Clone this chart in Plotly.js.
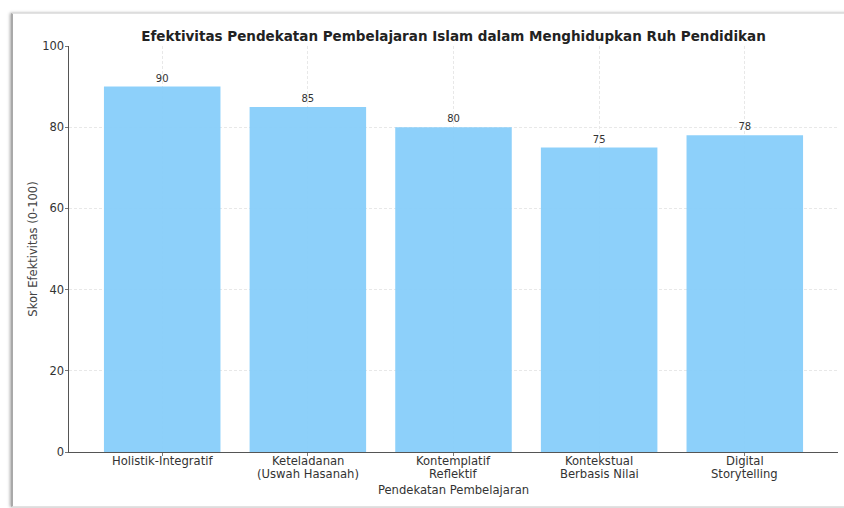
<!DOCTYPE html>
<html>
<head>
<meta charset="utf-8">
<script src="https://cdn.plot.ly/plotly-3.0.1.min.js"></script>
<style>
  html, body { margin: 0; padding: 0; background: #ffffff; width: 844px; height: 508px; overflow: hidden; }
  #frame { position: absolute; left: 11px; top: 13px; width: 840px; height: 492px;
           border-top: 1px solid #e2e2e2; border-bottom: 1px solid #e2e2e2; border-left: 2px solid #a9a9a9;
           box-shadow: -1px 0 3px rgba(0,0,0,0.35); background: #ffffff; }
  #chart { position: absolute; left: 0; top: 0; width: 844px; height: 508px; }
</style>
</head>
<body>
<div id="frame"></div>
<div id="chart"></div>
<script>
const categories = [
  "Holistik-Integratif",
  "Keteladanan<br>(Uswah Hasanah)",
  "Kontemplatif<br>Reflektif",
  "Kontekstual<br>Berbasis Nilai",
  "Digital<br>Storytelling"
];
const scores = [90, 85, 80, 75, 78];
const yTicks = [0, 20, 40, 60, 80, 100];

const catIdx = categories.map((c, i) => i);

const trace = {
  type: "bar",
  x: catIdx,
  y: scores,
  width: 0.8,
  marker: { color: "rgba(135,206,250,0.95)", line: { width: 0 } },
  text: scores.map(String),
  textposition: "outside",
  textfont: { family: "DejaVu Sans", size: 10, color: "#333333" },
  cliponaxis: false,
  hoverinfo: "x+y"
};

// category labels drawn line by line (tight matplotlib-like line spacing)
const labelAnnotations = [];
categories.forEach((c, i) => {
  c.split("<br>").forEach((line, k) => {
    labelAnnotations.push({
      x: i, xref: "x", y: 0, yref: "paper",
      text: line, showarrow: false,
      xanchor: "center", yanchor: "middle",
      borderpad: 0,
      yshift: -(8.8 + 13.6 * k),
      font: { family: "DejaVu Sans", size: 11.6, color: "#333333" }
    });
  });
});

const layout = {
  width: 844,
  height: 508,
  margin: { l: 69, r: 6, t: 46, b: 56 },
  paper_bgcolor: "rgba(0,0,0,0)",
  plot_bgcolor: "rgba(0,0,0,0)",
  showlegend: false,
  font: { family: "DejaVu Sans", color: "#333333" },
  title: {
    text: "Efektivitas Pendekatan Pembelajaran Islam dalam Menghidupkan Ruh Pendidikan",
    font: { family: "DejaVu Sans", size: 13.5, color: "#222222", weight: "bold" },
    xref: "paper", x: 0.5, xanchor: "center",
    yref: "container", y: 1 - 36 / 508, yanchor: "middle"
  },
  xaxis: {
    range: [-0.64, 4.64],
    tickmode: "array",
    tickvals: catIdx,
    showticklabels: false,
    ticks: "outside", ticklen: 3, tickcolor: "#555555", tickwidth: 0.8,
    showline: true, linecolor: "#555555", linewidth: 1,
    showgrid: true, gridcolor: "#e2e2e2", griddash: "3px,2px", gridwidth: 0.8,
    zeroline: false,
    title: { text: "Pendekatan Pembelajaran", font: { family: "DejaVu Sans", size: 11.6, color: "#333333" }, standoff: 30 },
    automargin: false
  },
  yaxis: {
    range: [0, 100],
    tickmode: "array",
    tickvals: yTicks,
    ticktext: yTicks.map(String),
    tickfont: { family: "DejaVu Sans", size: 11.5, color: "#333333" },
    ticklabelstandoff: -2,
    ticks: "outside", ticklen: 3.5, tickcolor: "#555555", tickwidth: 0.8,
    showline: true, linecolor: "#555555", linewidth: 1,
    showgrid: true, gridcolor: "#e2e2e2", griddash: "3px,2px", gridwidth: 0.8,
    zeroline: false,
    title: { text: "Skor Efektivitas (0-100)", font: { family: "DejaVu Sans", size: 11.5, color: "#444444" }, standoff: 2 },
    automargin: false
  },
  annotations: labelAnnotations,
  bargap: 0.2
};

Plotly.newPlot("chart", [trace], layout, { displayModeBar: false, staticPlot: true });
</script>
</body>
</html>
